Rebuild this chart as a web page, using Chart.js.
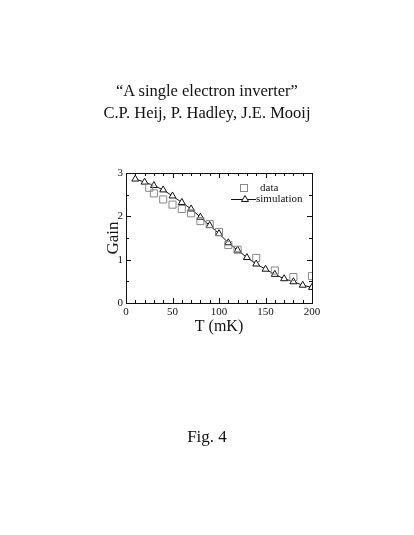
<!DOCTYPE html>
<html>
<head>
<meta charset="utf-8">
<script src="https://cdn.jsdelivr.net/npm/chart.js@4/dist/chart.umd.min.js"></script>
<style>
  html, body { margin: 0; padding: 0; background: #fff; }
  #wrap { position: relative; width: 414px; height: 535px; }
  #c { position: absolute; left: 0; top: 0; }
  .txt { position: absolute; left: 0; width: 414px; text-align: center;
         font-family: 'Liberation Serif', 'DejaVu Serif', serif; color: #111; }
</style>
</head>
<body>
<div id="wrap">
  <canvas id="c" width="414" height="535"></canvas>
  <div class="txt" style="top:81px;font-size:16.5px;">“A single electron inverter”</div>
  <div class="txt" style="top:103px;font-size:16.5px;">C.P. Heij, P. Hadley, J.E. Mooij</div>
  <div class="txt" style="top:427px;font-size:17px;">Fig. 4</div>
</div>
<script>
// ── Veri ─────────────────────────────────────────────
var dataT    = [25, 30, 40, 50, 60, 70, 80, 90, 100, 110, 120, 140, 160, 180, 200];
var dataGain = [2.66, 2.53, 2.39, 2.27, 2.17, 2.07, 1.89, 1.82, 1.64, 1.34, 1.23, 1.04, 0.75, 0.60, 0.62];

var simT    = [10, 20, 30, 40, 50, 60, 70, 80, 90, 100, 110, 120, 130, 140, 150, 160, 170, 180, 190, 200];
var simGain = [2.86, 2.79, 2.71, 2.61, 2.47, 2.32, 2.17, 1.98, 1.79, 1.60, 1.39, 1.22, 1.05, 0.90, 0.78, 0.66, 0.56, 0.49, 0.41, 0.36];

var xMajor = [0, 50, 100, 150, 200];
var yMajor = [0, 1, 2, 3];

var SERIF = "'Liberation Serif', 'DejaVu Serif', serif";

function pairs(xs, ys) {
  return xs.map(function (x, i) { return { x: x, y: ys[i] }; });
}

// ── İçe dönük tik + kendi lejantı ───────────────────
var innerTicks = {
  id: 'innerTicks',
  afterDraw: function (chart) {
    var ctx = chart.ctx, a = chart.chartArea;
    var sx = chart.scales.x, sy = chart.scales.y;
    ctx.save();
    ctx.strokeStyle = '#111';
    ctx.lineWidth = 1;
    ctx.beginPath();
    var v, px, len;
    for (v = 0; v <= 200; v += 10) {
      px = Math.round(sx.getPixelForValue(v)) + 0.5;
      len = (v % 50 === 0) ? 5 : 3;
      ctx.moveTo(px, a.bottom); ctx.lineTo(px, a.bottom - len);
      ctx.moveTo(px, a.top);    ctx.lineTo(px, a.top + len);
    }
    for (v = 0; v <= 3; v += 0.5) {
      px = Math.round(sy.getPixelForValue(v)) + 0.5;
      len = (v % 1 === 0) ? 5 : 3;
      ctx.moveTo(a.left, px);  ctx.lineTo(a.left + len, px);
      ctx.moveTo(a.right, px); ctx.lineTo(a.right - len, px);
    }
    ctx.stroke();

    // lejant
    var lx = a.left + 118, ly1 = a.top + 15, ly2 = a.top + 26;
    ctx.strokeStyle = '#888';
    ctx.strokeRect(lx - 3.5, ly1 - 3.5, 7, 7);
    ctx.strokeStyle = '#111';
    ctx.beginPath();
    ctx.moveTo(lx - 13, ly2 + 0.5); ctx.lineTo(lx + 12, ly2 + 0.5);
    ctx.stroke();
    ctx.beginPath();
    ctx.moveTo(lx + 1, ly2 - 3.5); ctx.lineTo(lx + 4.5, ly2 + 2.5); ctx.lineTo(lx - 2.5, ly2 + 2.5);
    ctx.closePath();
    ctx.fillStyle = '#fff'; ctx.fill(); ctx.stroke();
    ctx.fillStyle = '#111';
    ctx.font = '11px ' + SERIF;
    ctx.textBaseline = 'middle';
    ctx.fillText('data', lx + 16, ly1);
    ctx.fillText('simulation', lx + 12, ly2);
    ctx.restore();
  }
};

new Chart(document.getElementById('c'), {
  type: 'scatter',
  data: {
    datasets: [
      {
        label: 'simulation',
        data: pairs(simT, simGain),
        showLine: true,
        borderColor: '#111',
        borderWidth: 1,
        pointStyle: 'triangle',
        pointRadius: 4,
        pointBorderColor: '#111',
        pointBackgroundColor: '#fff',
        pointBorderWidth: 1,
        order: 2
      },
      {
        label: 'data',
        data: pairs(dataT, dataGain),
        showLine: false,
        pointStyle: 'rect',
        pointRadius: 5,
        pointBorderColor: '#888',
        pointBackgroundColor: 'rgba(0,0,0,0)',
        pointBorderWidth: 1,
        order: 1
      }
    ]
  },
  plugins: [innerTicks],
  options: {
    responsive: false,
    animation: false,
    events: [],
    layout: { padding: { left: 99, right: 102, top: 173, bottom: 195 } },
    plugins: { legend: { display: false }, tooltip: { enabled: false } },
    scales: {
      x: {
        type: 'linear', min: 0, max: 200,
        afterFit: function (s) { s.height = 37; },
        afterBuildTicks: function (s) { s.ticks = xMajor.map(function (v) { return { value: v }; }); },
        grid: { display: false, drawTicks: false },
        border: { display: true, color: '#111', width: 1 },
        ticks: { color: '#111', font: { family: SERIF, size: 11 }, padding: 3, maxRotation: 0 },
        title: { display: true, text: 'T (mK)', color: '#111', font: { family: SERIF, size: 16 }, padding: { top: 1 } }
      },
      y: {
        type: 'linear', min: 0, max: 3,
        afterFit: function (s) { s.width = 27; },
        afterBuildTicks: function (s) { s.ticks = yMajor.map(function (v) { return { value: v }; }); },
        grid: { display: false, drawTicks: false },
        border: { display: true, color: '#111', width: 1 },
        ticks: { color: '#111', font: { family: SERIF, size: 11 }, padding: 3 },
        title: { display: true, text: 'Gain', color: '#111', font: { family: SERIF, size: 17 }, padding: { bottom: 2 } }
      },
      x2: { type: 'linear', position: 'top', min: 0, max: 200, display: true,
            afterFit: function (s) { s.height = 0; },
            grid: { display: false, drawTicks: false }, ticks: { display: false },
            border: { display: true, color: '#111', width: 1 } },
      y2: { type: 'linear', position: 'right', min: 0, max: 3, display: true,
            afterFit: function (s) { s.width = 0; },
            grid: { display: false, drawTicks: false }, ticks: { display: false },
            border: { display: true, color: '#111', width: 1 } }
    }
  }
});
</script>
</body>
</html>
